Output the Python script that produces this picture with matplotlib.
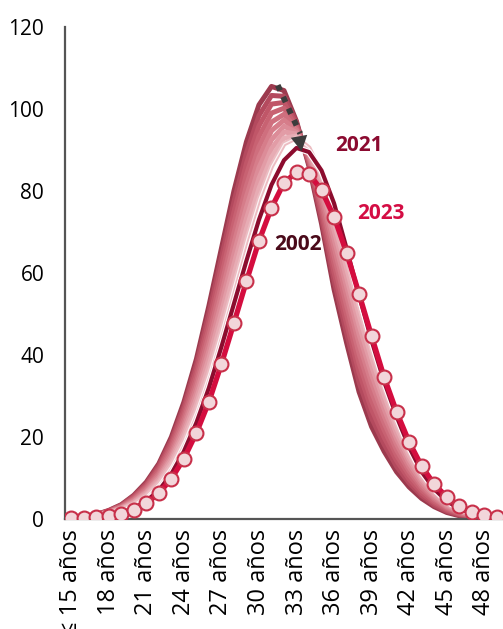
import matplotlib
matplotlib.use("Agg")
import matplotlib.pyplot as plt
import matplotlib.patheffects as pe

plt.rcParams['font.family'] = ['Open Sans', 'DejaVu Sans']

# ages 15..49 (first label is "≤ 15 años")
ages = ["≤ 15 años"] + [f"{a} años" for a in range(16, 50)]

# background years (oldest -> newest)
band_years = [2002, 2004, 2006, 2008, 2010, 2012, 2014, 2016, 2018, 2020]
band_2002 = [0.3, 0.6, 1.1, 2.1, 3.5, 5.8, 9.0, 13.5, 20.0, 28.5, 39.0, 52.0, 66.0, 80.0, 92.0, 101.0, 105.5, 104.5,
             97.0, 86.0, 72.0, 56.0, 43.0, 31.0, 22.5, 16.5, 11.5, 7.8, 5.0, 3.0, 1.6, 0.8, 0.4, 0.2, 0.1]
band_2004 = [0.3, 0.6, 1.1, 2.0, 3.4, 5.6, 8.6, 13.0, 19.2, 27.4, 37.6, 50.2, 63.8, 77.4, 89.3, 98.4, 103.3, 103.1,
             96.6, 86.5, 73.3, 58.1, 45.3, 33.3, 24.6, 18.2, 12.8, 8.8, 5.7, 3.4, 1.9, 1.0, 0.5, 0.3, 0.1]
band_2006 = [0.3, 0.6, 1.0, 1.9, 3.2, 5.3, 8.2, 12.4, 18.4, 26.4, 36.2, 48.3, 61.6, 74.9, 86.7, 95.9, 101.2, 101.6,
             96.1, 87.0, 74.7, 60.1, 47.6, 35.7, 26.7, 19.9, 14.2, 9.7, 6.3, 3.9, 2.2, 1.2, 0.6, 0.3, 0.1]
band_2008 = [0.3, 0.5, 1.0, 1.9, 3.1, 5.1, 7.9, 11.9, 17.7, 25.3, 34.8, 46.5, 59.3, 72.3, 84.0, 93.3, 99.0, 100.2,
             95.7, 87.5, 76.0, 62.2, 49.8, 38.0, 28.8, 21.7, 15.5, 10.7, 7.0, 4.3, 2.5, 1.3, 0.7, 0.4, 0.2]
band_2010 = [0.3, 0.5, 1.0, 1.8, 3.0, 4.8, 7.5, 11.3, 16.9, 24.3, 33.4, 44.7, 57.1, 69.8, 81.3, 90.8, 96.8, 98.7,
             95.2, 88.0, 77.3, 64.2, 52.1, 40.3, 30.9, 23.4, 16.8, 11.7, 7.7, 4.8, 2.8, 1.5, 0.8, 0.4, 0.2]
band_2012 = [0.2, 0.5, 0.9, 1.7, 2.8, 4.6, 7.1, 10.8, 16.1, 23.2, 32.1, 42.8, 54.9, 67.2, 78.7, 88.2, 94.7, 97.3,
             94.8, 88.5, 78.7, 66.3, 54.4, 42.7, 33.1, 25.1, 18.2, 12.6, 8.3, 5.2, 3.0, 1.7, 0.9, 0.5, 0.2]
band_2014 = [0.2, 0.5, 0.9, 1.6, 2.7, 4.3, 6.7, 10.2, 15.3, 22.2, 30.7, 41.0, 52.7, 64.7, 76.0, 85.7, 92.5, 95.8,
             94.3, 89.0, 80.0, 68.3, 56.7, 45.0, 35.2, 26.8, 19.5, 13.6, 9.0, 5.7, 3.3, 1.9, 1.0, 0.5, 0.2]
band_2016 = [0.2, 0.4, 0.9, 1.6, 2.6, 4.1, 6.4, 9.7, 14.6, 21.1, 29.3, 39.2, 50.4, 62.1, 73.3, 83.1, 90.3, 94.4,
             93.9, 89.5, 81.3, 70.4, 58.9, 47.3, 37.3, 28.6, 20.8, 14.6, 9.7, 6.1, 3.6, 2.0, 1.1, 0.6, 0.3]
band_2018 = [0.2, 0.4, 0.8, 1.5, 2.4, 3.8, 6.0, 9.1, 13.8, 20.1, 27.9, 37.3, 48.2, 59.6, 70.7, 80.6, 88.2, 92.9,
             93.4, 90.0, 82.7, 72.4, 61.2, 49.7, 39.4, 30.3, 22.2, 15.5, 10.3, 6.6, 3.9, 2.2, 1.2, 0.6, 0.3]
band_2020 = [0.2, 0.4, 0.8, 1.4, 2.3, 3.6, 5.6, 8.6, 13.0, 19.0, 26.5, 35.5, 46.0, 57.0, 68.0, 78.0, 86.0, 91.5,
             93.0, 90.5, 84.0, 74.5, 63.5, 52.0, 41.5, 32.0, 23.5, 16.5, 11.0, 7.0, 4.2, 2.4, 1.3, 0.7, 0.3]
band_values = [band_2002, band_2004, band_2006, band_2008, band_2010,
               band_2012, band_2014, band_2016, band_2018, band_2020]

y2021 = [0.1, 0.2, 0.4, 0.8, 1.5, 2.6, 4.4, 7.0, 11.0, 16.5, 23.5, 32.0, 42.0, 52.5, 63.0, 73.0, 81.5, 87.5,
         90.5, 89.5, 85.0, 77.0, 66.0, 54.5, 43.5, 33.5, 25.0, 17.5, 11.5, 7.3, 4.4, 2.5, 1.4, 0.8, 0.4]
y2023 = [0.2, 0.3, 0.5, 0.8, 1.3, 2.2, 3.8, 6.3, 9.8, 14.7, 21.0, 28.6, 37.8, 47.8, 58.0, 67.8, 75.9, 82.0,
         84.6, 84.2, 80.2, 73.7, 64.9, 54.9, 44.6, 34.6, 26.1, 18.8, 12.9, 8.5, 5.4, 3.2, 1.7, 1.0, 0.4]

band_colors = ["#9c3a4e", "#b44a5e", "#c05668", "#c86272", "#cf6f7e",
               "#d67d8a", "#dc8c98", "#e29ca6", "#e7acb4", "#ecbcc2"]

# arrow showing the drop of the peak (index, value)
arrow_start = (16.5, 105.8)
arrow_end = (18.45, 89.0)

x = list(range(len(ages)))

fig = plt.figure(figsize=(5.03, 6.29), dpi=100)
ax = fig.add_axes([65 / 503, 110 / 629, 438 / 503, 492 / 629])

for vals, col in zip(band_values, band_colors):
    ax.plot(x, vals, color=col, lw=3.6, solid_joinstyle='round', solid_capstyle='round', zorder=2)
# thin white sheen on the newest band line
ax.plot(x, band_2020, color='white', lw=0.9, alpha=0.8, zorder=2.5)

ax.plot(x, y2021, color='#8c0c2e', lw=3.0, path_effects=[pe.Stroke(linewidth=4.6, foreground='white'), pe.Normal()],
        zorder=3)
ax.plot(x, y2023, color='#d40d3f', lw=3.8, marker='o', markersize=10, markerfacecolor='#f2d6da',
        markeredgecolor='#c8304a', markeredgewidth=1.5, zorder=4)

# dotted arrow
ax.plot([arrow_start[0], arrow_end[0] - 0.15], [arrow_start[1], arrow_end[1] + 5], color='#3c3c3c', lw=4.2,
        linestyle=(0, (1, 1.2)), dash_capstyle='butt', zorder=5)
ax.annotate('', xy=arrow_end, xytext=(arrow_end[0] - 0.35, arrow_end[1] + 6),
            arrowprops=dict(arrowstyle='-|>,head_length=0.55,head_width=0.3', color='#3c3c3c', lw=0,
                            mutation_scale=20), zorder=5)

ax.text(23.0, 91.2, '2021', color='#8b0a30', fontsize=15, fontweight='bold', ha='center', va='center')
ax.text(24.7, 74.6, '2023', color='#d40d44', fontsize=15, fontweight='bold', ha='center', va='center')
ax.text(18.1, 67.0, '2002', color='#4a0a1a', fontsize=15, fontweight='bold', ha='center', va='center')

ax.set_xlim(-0.5, len(ages) - 0.5)
ax.set_ylim(0, 120)
ax.set_yticks(range(0, 121, 20))
ax.set_xticks(x[::3])
ax.set_xticklabels(ages[::3], rotation=90)
ax.tick_params(axis='both', length=0, colors='black')
ax.tick_params(axis='y', pad=15, labelsize=15)
ax.tick_params(axis='x', pad=7, labelsize=17)

for s in ['top', 'right']:
    ax.spines[s].set_visible(False)
for s in ['left', 'bottom']:
    ax.spines[s].set_color('#555555')
    ax.spines[s].set_linewidth(1.6)

fig.savefig('out.png', dpi=100)
